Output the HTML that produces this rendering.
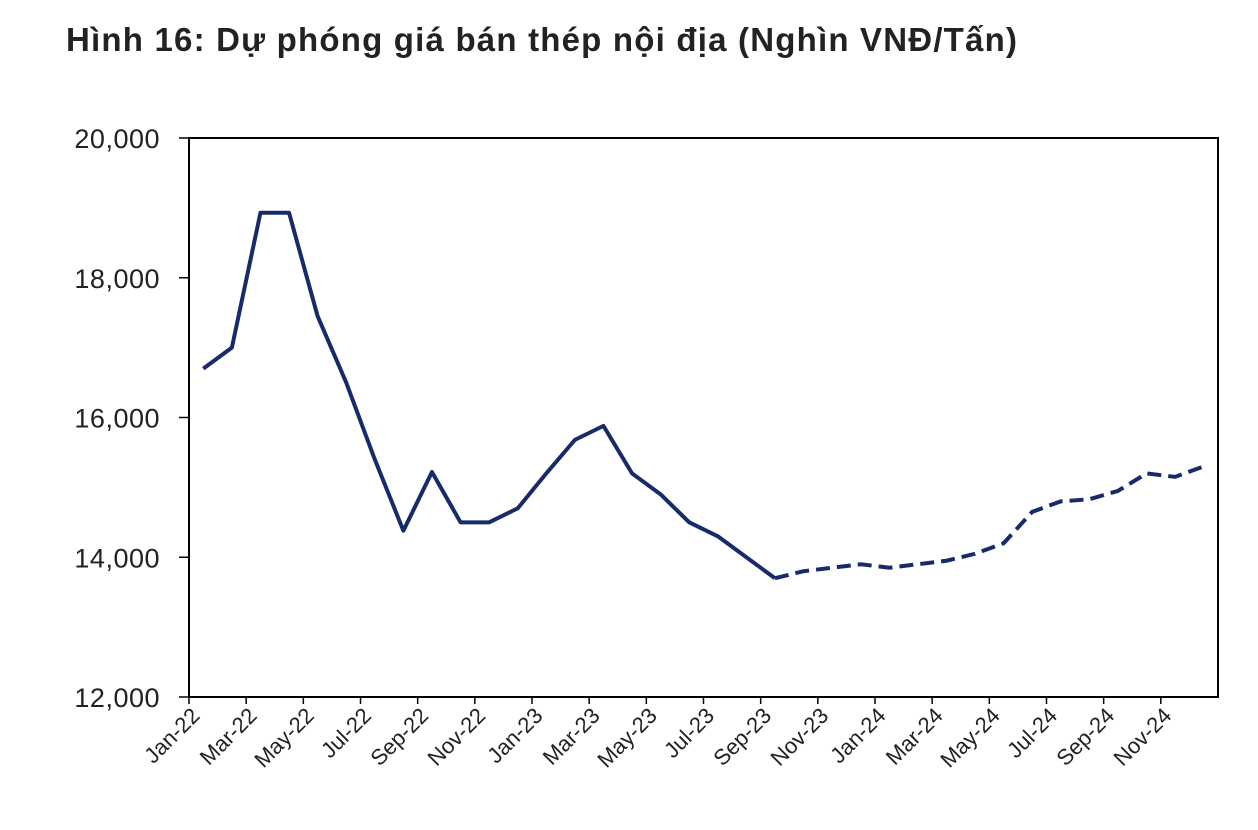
<!DOCTYPE html>
<html><head><meta charset="utf-8"><style>
body{margin:0;background:#fff;width:1258px;height:830px;overflow:hidden;font-family:"Liberation Sans",Arial,sans-serif}
h1{position:absolute;left:66px;top:21px;margin:0;font-size:33px;letter-spacing:1.2px;font-weight:bold;color:#222}
</style></head><body>
<h1>Hình 16: Dự phóng giá bán thép nội địa (Nghìn VNĐ/Tấn)</h1>
<svg id="c" width="1258" height="830" style="position:absolute;left:0;top:0"></svg>
<script>
const months=["Jan-22","Feb-22","Mar-22","Apr-22","May-22","Jun-22","Jul-22","Aug-22","Sep-22","Oct-22","Nov-22","Dec-22","Jan-23","Feb-23","Mar-23","Apr-23","May-23","Jun-23","Jul-23","Aug-23","Sep-23","Oct-23","Nov-23","Dec-23","Jan-24","Feb-24","Mar-24","Apr-24","May-24","Jun-24","Jul-24","Aug-24","Sep-24","Oct-24","Nov-24","Dec-24"];
const actual=[16700,17000,18930,18930,17450,16500,15400,14380,15220,14500,14500,14700,15200,15680,15880,15200,14900,14500,14300,14000,13700];
const forecast=[13700,13800,13850,13900,13850,13900,13950,14050,14200,14650,14800,14830,14950,15200,15150,15300];
const forecastStart=20;
const yTicks=[12000,14000,16000,18000,20000];
const L=189,R=1218,T=138,B=697,yMin=12000,yMax=20000;
const bw=(R-L)/months.length;
const x=i=>L+bw*(i+0.5), y=v=>B-(v-yMin)/(yMax-yMin)*(B-T);
const s=document.getElementById('c'),NS="http://www.w3.org/2000/svg";
function mk(t,a,p){const e=document.createElementNS(NS,t);for(const k in a)e.setAttribute(k,a[k]);(p||s).appendChild(e);return e;}
const frame=mk('rect',{x:L,y:T,width:R-L,height:B-T,fill:'none',stroke:'#000','stroke-width':2});


yTicks.forEach(v=>{
  const tk=mk('line',{x1:L-10,x2:L,y1:y(v),y2:y(v),stroke:'#000','stroke-width':1.5});
  
  
  const t=mk('text',{x:L-29,y:y(v)+10,'text-anchor':'end','font-size':27,'letter-spacing':0.5,fill:'#222'});
  t.textContent=v.toLocaleString('en-US');
  
  
});
months.forEach((m,i)=>{
  if(i%2==0){
    const tk=mk('line',{x1:L+bw*i,x2:L+bw*i,y1:B,y2:B+7,stroke:'#000','stroke-width':1.5});
    
    
    const tx=L+bw*i+12, ty=B+20;
    const t=mk('text',{x:tx,y:ty,'text-anchor':'end','font-size':22,fill:'#222',transform:`rotate(-45 ${tx} ${ty})`});
    t.textContent=m;
    
    
  }
});
const a=mk('polyline',{points:actual.map((v,i)=>x(i)+','+y(v)).join(' '),fill:'none',stroke:'#172a6a','stroke-width':4,'stroke-linejoin':'round'});


const f=mk('polyline',{points:forecast.map((v,i)=>x(i+forecastStart)+','+y(v)).join(' '),fill:'none',stroke:'#172a6a','stroke-width':4,'stroke-dasharray':'14 7'});


</script>
</body></html>
